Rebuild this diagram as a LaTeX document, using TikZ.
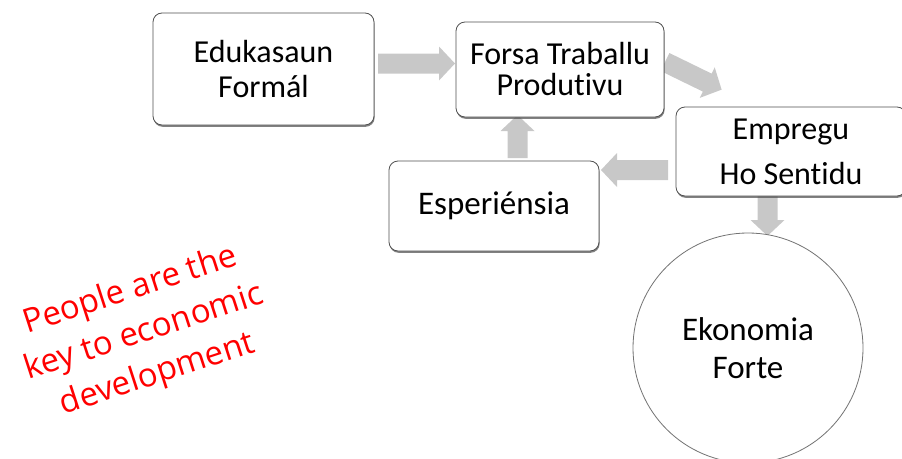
\documentclass[tikz,border=0pt]{standalone}
\usepackage{fontspec}
\setmainfont[RawFeature={-liga;-clig;-dlig}]{Carlito}
\newfontfamily\redfont{Open Sans}
\usetikzlibrary{shadows,calc}
\definecolor{arrowgray}{HTML}{C8C8C8}
\definecolor{boxline}{HTML}{505050}
\tikzset{
  box/.style={draw=boxline, line width=0.8pt, rounded corners=9pt, fill=white,
    align=center, inner sep=0pt,
    drop shadow={shadow xshift=0.6pt, shadow yshift=-1.8pt, fill=black!70, opacity=0.7}},
  pics/blk/.style={code={
    \fill[arrowgray] (0,-10) -- ({#1-16},-10) -- ({#1-16},-17) -- (#1,0)
      -- ({#1-16},17) -- ({#1-16},10) -- (0,10) -- cycle;}}
}
\begin{document}
\begin{tikzpicture}[x=1pt,y=-1pt]
\useasboundingbox (0,0) rectangle (902,458);
% block arrows (behind the boxes)
\coordinate (a1) at (378,63.5);
\coordinate (a2) at (665,62);
\coordinate (a3) at (668,170);
\coordinate (a4) at (517.5,158);
\coordinate (a5) at (767.5,196);
\pic[rotate=0] at (a1) {blk=77};
\pic[rotate=-26] at (a2) {blk=63};
\pic[rotate=180] at (a3) {blk=67};
\pic[rotate=90] at (a4) {blk=43};
\pic[rotate=-90] at (a5) {blk=40};
% boxes
\node[box, minimum width=221, minimum height=112, font=\fontsize{32}{35}\selectfont]
  (edu) at (263.5,69) {Edukasaun\\Formál};
\node[box, minimum width=208, minimum height=95, font=\fontsize{32}{31}\selectfont]
  (forsa) at (560,69.5) {Forsa Traballu\\Produt\kern0pt ivu};
\node[box, minimum width=230, minimum height=89, font=\fontsize{32}{45}\selectfont]
  (emp) at (791,151.5) {Empregu\\Ho Sent\kern0pt idu};
\node[box, minimum width=210, minimum height=90, font=\fontsize{33}{38}\selectfont]
  (esp) at (494,206) {Esperiénsia};
\node[circle, draw=black!55, line width=0.8pt, fill=white, minimum size=230, inner sep=0pt,
  align=center, font=\fontsize{33}{38}\selectfont]
  (eko) at (748,348) {Ekonomia\\Forte};
% slogan
\node[rotate=18, text=red, font=\redfont\fontsize{33}{44}\selectfont, align=center]
  (slogan) at (144,333) {People are the\\key to economic\\development};
\end{tikzpicture}
\end{document}
